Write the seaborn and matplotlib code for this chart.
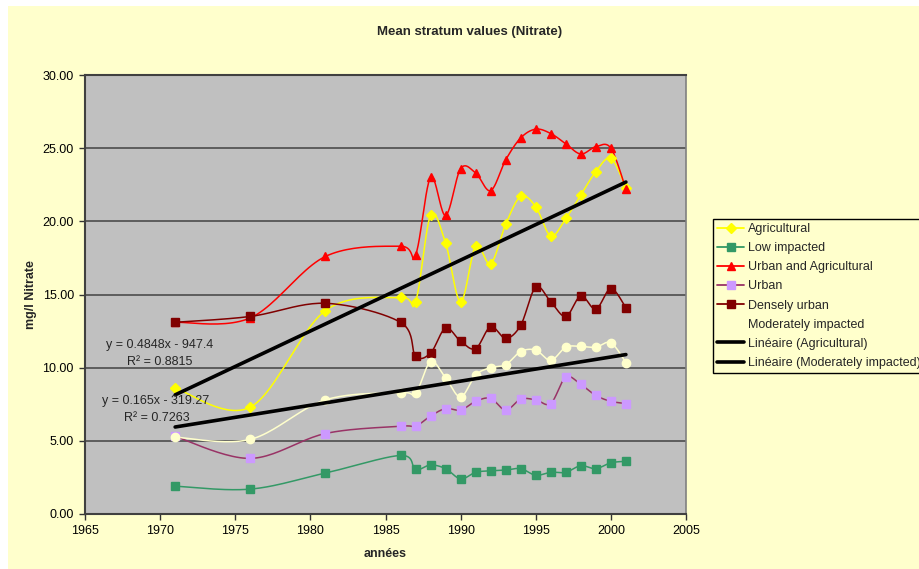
import numpy as np
import pandas as pd
import matplotlib
matplotlib.use("Agg")
import matplotlib.pyplot as plt
from matplotlib.lines import Line2D
from matplotlib.patches import Rectangle
import seaborn as sns

# ---- data -------------------------------------------------------------
years = [1971, 1976, 1981, 1986, 1987, 1988, 1989, 1990, 1991, 1992, 1993,
         1994, 1995, 1996, 1997, 1998, 1999, 2000, 2001]

agricultural = [8.6, 7.3, 13.9, 14.8, 14.5, 20.4, 18.5, 14.5, 18.3, 17.1,
                19.8, 21.7, 21.0, 19.0, 20.2, 21.8, 23.4, 24.3, 22.3]
low_impacted = [1.9, 1.7, 2.8, 4.0, 3.05, 3.35, 3.1, 2.4, 2.85, 2.95, 3.0,
                3.1, 2.65, 2.85, 2.85, 3.3, 3.1, 3.5, 3.6]
urban_agri = [13.1, 13.4, 17.6, 18.3, 17.7, 23.0, 20.4, 23.6, 23.3, 22.1,
              24.2, 25.7, 26.3, 26.0, 25.3, 24.6, 25.1, 25.0, 22.2]
urban = [5.3, 3.8, 5.5, 6.0, 6.0, 6.7, 7.2, 7.1, 7.7, 7.9, 7.1, 7.85, 7.8,
         7.55, 9.35, 8.85, 8.1, 7.7, 7.55]
densely_urban = [13.1, 13.5, 14.4, 13.1, 10.8, 11.0, 12.7, 11.8, 11.3, 12.8,
                 12.0, 12.9, 15.5, 14.5, 13.5, 14.9, 14.0, 15.4, 14.1]
moderately = [5.25, 5.1, 7.8, 8.3, 8.25, 10.4, 9.3, 8.0, 9.5, 10.0, 10.2,
              11.1, 11.2, 10.5, 11.4, 11.45, 11.4, 11.7, 10.35]

series_names = ["Agricultural", "Low impacted", "Urban and Agricultural",
                "Urban", "Densely urban", "Moderately impacted"]

# linear trend coefficients (slope, intercept, R²)
trend_agri = (0.4848, -947.4, 0.8815)
trend_mod = (0.165, -319.27, 0.7263)

x_ticks = [1965, 1970, 1975, 1980, 1985, 1990, 1995, 2000, 2005]
y_ticks = [0, 5, 10, 15, 20, 25, 30]

# ---- style ------------------------------------------------------------
sns.set_theme(style="ticks")
plt.rcParams["font.family"] = ["Liberation Sans", "DejaVu Sans"]
plt.rcParams["font.size"] = 9

styles = {
    "Agricultural": dict(line="#FFFF00", face="#FFFF00", marker="D", ms=5.2),
    "Low impacted": dict(line="#339966", face="#339966", marker="s", ms=5.8),
    "Urban and Agricultural": dict(line="#FF0000", face="#FF0000", marker="^", ms=6.4),
    "Urban": dict(line="#993366", face="#CC99FF", marker="s", ms=5.8),
    "Densely urban": dict(line="#800000", face="#800000", marker="s", ms=5.8),
    "Moderately impacted": dict(line="#FFFFCC", face="#FFFFCC", marker="o", ms=6.0),
}

W, H = 920, 569
fig = plt.figure(figsize=(W / 100, H / 100), dpi=100, facecolor="#FFFFCC")
# white margin strips along the top and left edges
fig.patches.append(Rectangle((0, 1 - 6 / H), 1, 6 / H, transform=fig.transFigure,
                             facecolor="white", edgecolor="none", zorder=0))
fig.patches.append(Rectangle((0, 0), 8 / W, 1, transform=fig.transFigure,
                             facecolor="white", edgecolor="none", zorder=0))

L, R, T, B = 85, 686, 75, 514
ax = fig.add_axes([L / W, 1 - B / H, (R - L) / W, (B - T) / H])
ax.set_facecolor("#C0C0C0")
ax.set_xlim(1965, 2005)
ax.set_ylim(0, 30)

# pixel aspect so the smoothing behaves like a screen-space spline
px_x = (R - L) / 40.0
px_y = (B - T) / 30.0
k = px_y / px_x


def smooth_curve(x, y, n=24):
    """Bezier smoothing through every point (Catmull-Rom style control points)."""
    pts = np.column_stack([np.asarray(x, float), np.asarray(y, float) * k])
    P = np.vstack([pts[0], pts, pts[-1]])
    t = np.linspace(0, 1, n)[:, None]
    parts = []
    for i in range(1, len(P) - 2):
        p0, p1, p2, p3 = P[i - 1], P[i], P[i + 1], P[i + 2]
        c1 = p1 + (p2 - p0) / 6.0
        c2 = p2 - (p3 - p1) / 6.0
        b = ((1 - t) ** 3) * p1 + 3 * ((1 - t) ** 2) * t * c1 \
            + 3 * (1 - t) * t ** 2 * c2 + t ** 3 * p2
        parts.append(b if i == 1 else b[1:])
    c = np.vstack(parts)
    return c[:, 0], c[:, 1] / k


data = pd.DataFrame({
    "year": years,
    "Agricultural": agricultural,
    "Low impacted": low_impacted,
    "Urban and Agricultural": urban_agri,
    "Urban": urban,
    "Densely urban": densely_urban,
    "Moderately impacted": moderately,
})

# gridlines
for yv in y_ticks[1:-1]:
    ax.axhline(yv, color="#555555", lw=1.3, zorder=1)

for name in series_names:
    st = styles[name]
    sx, sy = smooth_curve(data["year"], data[name])
    sns.lineplot(x=sx, y=sy, ax=ax, color=st["line"], lw=1.1, sort=False,
                 estimator=None, zorder=3)
    ax.plot(data["year"], data[name], linestyle="none", marker=st["marker"],
            markersize=st["ms"], markerfacecolor=st["face"],
            markeredgecolor=st["face"], zorder=4)

# linear trend lines over the observed span
span = np.array([years[0], years[-1]], float)
for slope, icpt, _ in (trend_agri, trend_mod):
    sns.lineplot(x=span, y=slope * span + icpt, ax=ax, color="black", lw=2.6,
                 estimator=None, zorder=5)


def fig_text(px, py, s, **kw):
    """Place text at a pixel position measured from the top-left corner."""
    return fig.text(px / W, 1 - py / H, s, **kw)


fig_text(106, 345, f"y = {trend_agri[0]}x - {abs(trend_agri[1])}",
         fontsize=9, va="center", ha="left", zorder=6)
fig_text(127, 362, f"R² = {trend_agri[2]}", fontsize=9, va="center",
         ha="left", zorder=6)
fig_text(102, 401, f"y = {trend_mod[0]}x - {abs(trend_mod[1])}",
         fontsize=9, va="center", ha="left", zorder=6)
fig_text(124, 418, f"R² = {trend_mod[2]}", fontsize=9, va="center",
         ha="left", zorder=6)

# axes cosmetics
ax.set_xticks(x_ticks)
ax.set_yticks(y_ticks)
ax.set_yticklabels([f"{v:.2f}" for v in y_ticks])
ax.tick_params(axis="both", direction="out", length=4, width=1,
               color="#333333", labelsize=9, pad=4, labelcolor="black")
for side in ("left", "bottom", "top"):
    ax.spines[side].set_color("#404040")
    ax.spines[side].set_linewidth(1.5)
ax.spines["right"].set_color("#808080")
ax.spines["right"].set_linewidth(1.2)
ax.grid(False)

ax.set_xlabel("années", fontsize=9, fontweight="bold", labelpad=8)
ax.set_ylabel("mg/l Nitrate", fontsize=9, fontweight="bold", labelpad=4)
fig_text(470, 32, "Mean stratum values (Nitrate)",
         fontsize=9.5, fontweight="bold", ha="center", va="center")

# legend
handles = []
for name in series_names:
    st = styles[name]
    handles.append(Line2D([], [], color=st["line"], lw=1.3, marker=st["marker"],
                          markersize=st["ms"], markerfacecolor=st["face"],
                          markeredgecolor=st["face"], label=name))
handles.append(Line2D([], [], color="black", lw=2.6, label="Linéaire (Agricultural)"))
handles.append(Line2D([], [], color="black", lw=2.6,
                      label="Linéaire (Moderately impacted)"))
leg = fig.legend(handles=handles, loc="upper left",
                 bbox_to_anchor=(713 / W, 1 - 219 / H), frameon=True,
                 fancybox=False, framealpha=1, facecolor="#FFFFCC",
                 edgecolor="black", fontsize=9, handlelength=2.2,
                 handletextpad=0.25, labelspacing=0.57, borderpad=0.32,
                 borderaxespad=0)
leg.get_frame().set_linewidth(1.0)

fig.savefig("out.png", dpi=100, facecolor=fig.get_facecolor())
